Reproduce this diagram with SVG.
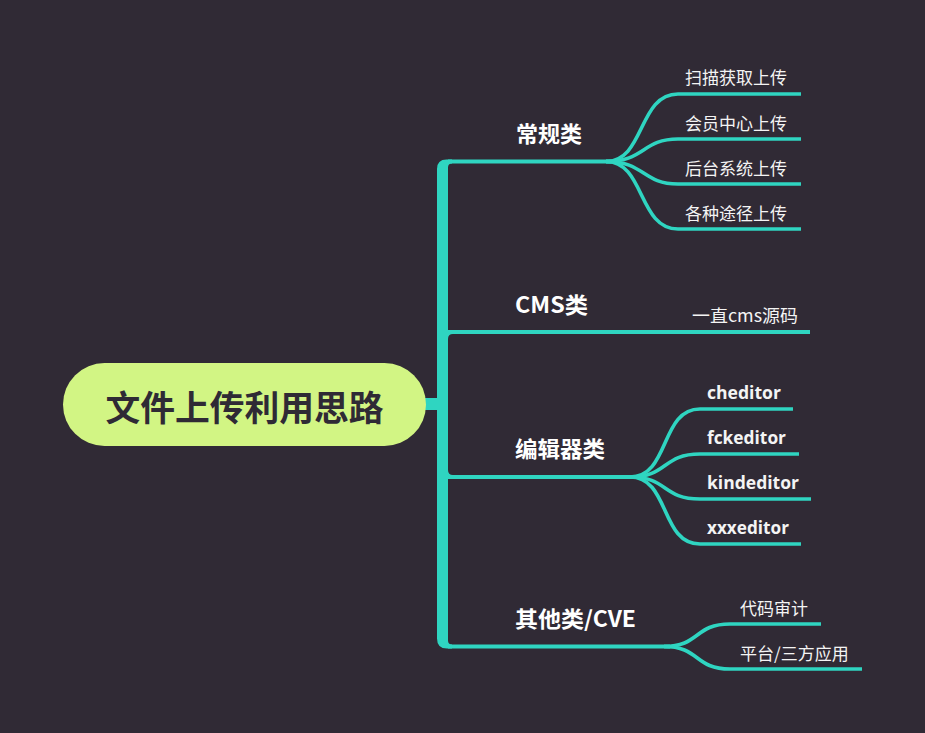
<svg xmlns="http://www.w3.org/2000/svg" width="925" height="733" viewBox="0 0 925 733">
<style>
.bg{fill:#302a35}
.ln{fill:none;stroke:#2fd5c1;stroke-width:4;stroke-linecap:butt}
.sub{fill:none;stroke:#2fd5c1;stroke-width:3.6}
.tk{fill:#2fd5c1}
.main{font-family:"Noto Sans CJK SC","Open Sans",sans-serif;font-weight:700;font-size:22px;fill:#ffffff;dominant-baseline:central}
.leaf{font-family:"Noto Sans CJK SC",sans-serif;font-size:17px;fill:#f4f4f4;dominant-baseline:central}
.leafl{font-family:"Open Sans","Noto Sans CJK SC",sans-serif;font-weight:700;font-size:17px;fill:#f4f4f4;dominant-baseline:central}
.root{font-family:"Noto Sans CJK SC",sans-serif;font-weight:700;font-size:35px;fill:#2f2a35;dominant-baseline:central}
</style>
<rect class="bg" x="0" y="0" width="925" height="733"/>
<g id="connectors">
<rect class="tk" x="424" y="398" width="14" height="12"/>
<path class="tk" d="M437 169 Q437 159.5 446.5 159.5 L452 159.5 L452 163.5 Q448 163.5 448 167.5 L448 640.5 Q448 644.5 452 644.5 L452 648.5 L447 648.5 Q437 648.5 437 638.5 Z"/>
<path class="tk" d="M448 334 L453 334 Q448 334 448 339 Z"/>
<path class="tk" d="M448 475 L453 475 Q448 475 448 470 Z"/>
<path class="ln" d="M448 161.5 H612"/>
<path class="sub" d="M606 161.5 C645 161.5 638 94 678 94 H801"/>
<path class="sub" d="M606 161.5 C645 161.5 642 139 678 139 H801"/>
<path class="sub" d="M606 161.5 C645 161.5 642 184 678 184 H801"/>
<path class="sub" d="M606 161.5 C645 161.5 638 229 678 229 H801"/>
<path class="ln" d="M448 332 H810"/>
<path class="ln" d="M448 477 H636"/>
<path class="sub" d="M630 477 C670 477 660 409 700 409 H793"/>
<path class="sub" d="M630 477 C668 477 662 454 700 454 H799"/>
<path class="sub" d="M630 477 C668 477 662 499 700 499 H811"/>
<path class="sub" d="M630 477 C670 477 660 544 700 544 H801"/>
<path class="ln" d="M448 646.5 H670"/>
<path class="sub" d="M664 646.5 C700 646.5 694 624 730 624 H821"/>
<path class="sub" d="M664 646.5 C700 646.5 694 669 730 669 H862"/>
</g>
<g id="root">
<rect x="63" y="363" width="363" height="83" rx="41.5" fill="#d2f584"/>
<text class="root" x="244.5" y="405" text-anchor="middle" textLength="278" lengthAdjust="spacingAndGlyphs">文件上传利用思路</text>
</g>
<g id="n-changgui"><text class="main" x="516" y="132" textLength="66" lengthAdjust="spacingAndGlyphs">常规类</text></g>
<g id="n-saomiao"><text class="leaf" x="685" y="76">扫描获取上传</text></g>
<g id="n-huiyuan"><text class="leaf" x="685" y="122">会员中心上传</text></g>
<g id="n-houtai"><text class="leaf" x="685" y="167">后台系统上传</text></g>
<g id="n-gezhong"><text class="leaf" x="685" y="212">各种途径上传</text></g>
<g id="n-cms"><text class="main" x="515" y="303" textLength="73" lengthAdjust="spacingAndGlyphs">CMS类</text></g>
<g id="n-yizhi"><text class="leaf" x="692" y="314" textLength="106" lengthAdjust="spacingAndGlyphs">一直cms源码</text></g>
<g id="n-bianji"><text class="main" x="515" y="447" textLength="90" lengthAdjust="spacingAndGlyphs">编辑器类</text></g>
<g id="n-ched"><text class="leafl" x="707" y="392" textLength="74" lengthAdjust="spacingAndGlyphs">cheditor</text></g>
<g id="n-fcked"><text class="leafl" x="707" y="437" textLength="79" lengthAdjust="spacingAndGlyphs">fckeditor</text></g>
<g id="n-kinded"><text class="leafl" x="707" y="482" textLength="92" lengthAdjust="spacingAndGlyphs">kindeditor</text></g>
<g id="n-xxxed"><text class="leafl" x="707" y="527" textLength="82" lengthAdjust="spacingAndGlyphs">xxxeditor</text></g>
<g id="n-qita"><text class="main" x="515" y="617" textLength="121" lengthAdjust="spacingAndGlyphs">其他类/CVE</text></g>
<g id="n-daima"><text class="leaf" x="740" y="607">代码审计</text></g>
<g id="n-pingtai"><text class="leaf" x="740" y="652">平台/三方应用</text></g>
</svg>
